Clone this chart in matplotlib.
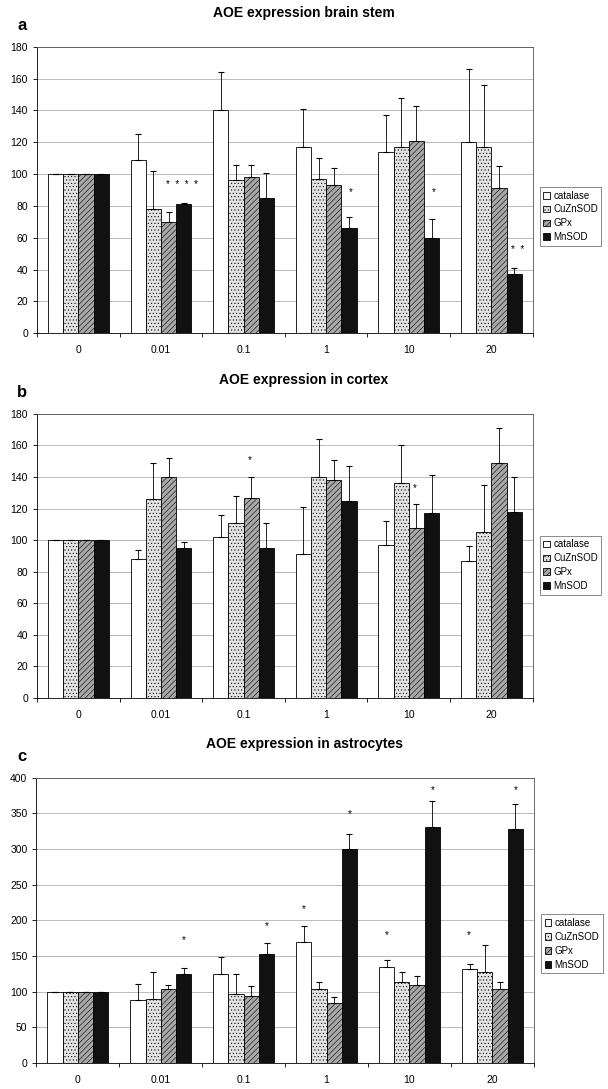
import numpy as np
import matplotlib.pyplot as plt

plt.rcParams['font.family'] = ['Liberation Sans', 'DejaVu Sans']
plt.rcParams['hatch.linewidth'] = 0.4

doses = ['0', '0.01', '0.1', '1', '10', '20']
enzymes = ['catalase', 'CuZnSOD', 'GPx', 'MnSOD']

# panel a: brain stem
a_vals = [[100, 109, 140, 117, 114, 120],
          [100, 78, 96, 97, 117, 117],
          [100, 70, 98, 93, 121, 91],
          [100, 81, 85, 66, 60, 37]]
a_err = [[0, 16, 24, 24, 23, 46],
         [0, 24, 10, 13, 31, 39],
         [0, 6, 8, 11, 22, 14],
         [0, 1, 16, 7, 12, 4]]
a_stars = [(1.25, 93, '*  *  *  *'), (3.3, 89, '*'), (4.3, 89, '*'), (5.32, 52, '*  *')]

# panel b: cortex
b_vals = [[100, 88, 102, 91, 97, 87],
          [100, 126, 111, 140, 136, 105],
          [100, 140, 127, 138, 108, 149],
          [100, 95, 95, 125, 117, 118]]
b_err = [[0, 6, 14, 30, 15, 9],
         [0, 23, 17, 24, 24, 30],
         [0, 12, 13, 13, 15, 22],
         [0, 4, 16, 22, 24, 22]]
b_stars = [(2.08, 151, '*'), (4.07, 133, '*')]

# panel c: astrocytes
c_vals = [[100, 88, 125, 169, 134, 131],
          [100, 90, 96, 104, 114, 127],
          [100, 103, 94, 84, 109, 103],
          [100, 125, 152, 300, 330, 328]]
c_err = [[0, 23, 23, 23, 10, 7],
         [0, 37, 28, 9, 13, 38],
         [0, 6, 14, 9, 13, 11],
         [0, 8, 16, 21, 37, 35]]
c_stars = [(1.28, 172, '*'), (2.28, 192, '*'), (2.72, 216, '*'), (3.28, 349, '*'),
           (3.72, 179, '*'), (4.28, 383, '*'), (4.72, 179, '*'), (5.28, 383, '*')]

styles = [dict(color='white', hatch=None),
          dict(color='#e4e4e4', hatch='.....'),
          dict(color='#a8a8a8', hatch='//////'),
          dict(color='#111111', hatch=None)]

fig = plt.figure(figsize=(6.08, 10.89), dpi=100)


def panel(rect, letter, title, vals, errs, stars, ymax, ystep, legy):
    ax = fig.add_axes(rect)
    x = np.arange(len(doses))
    w = 0.184
    for i in range(4):
        ax.bar(x + (i - 1.5) * w, vals[i], w, color=styles[i]['color'],
               hatch=styles[i]['hatch'], edgecolor='black', linewidth=0.6,
               label=enzymes[i], zorder=3)
        e = np.array(errs[i])
        ax.errorbar(x + (i - 1.5) * w, vals[i], yerr=[np.zeros_like(e), e],
                    fmt='none', ecolor='black', elinewidth=0.6, capsize=2,
                    capthick=0.8, zorder=4)
    for sx, sy, s in stars:
        ax.text(sx, sy, s, fontsize=7, ha='center', va='center')
    ax.set_xlim(-0.5, 5.5)
    ax.set_ylim(0, ymax)
    ax.set_yticks(np.arange(0, ymax + 1, ystep))
    ax.yaxis.grid(True, color='#b0b0b0', linewidth=0.6, zorder=0)
    ax.set_xticks(x)
    ax.set_xticklabels(doses)
    ax.set_xticks(np.arange(-0.5, 6, 1), minor=True)
    ax.tick_params(axis='x', which='major', length=0, pad=8.5, labelsize=7.5)
    ax.tick_params(axis='x', which='minor', length=3, width=0.6)
    ax.tick_params(axis='y', length=3, width=0.6, labelsize=7.5)
    for s in ax.spines.values():
        s.set_linewidth(0.6)
        s.set_color('#555555')
    ax.spines['left'].set_color('black')
    ax.spines['bottom'].set_color('black')
    leg = ax.legend(loc='upper left', bbox_to_anchor=(1.015, legy), fontsize=7,
                    frameon=True, fancybox=False, edgecolor='#555555',
                    handlelength=0.7, handleheight=0.7, handletextpad=0.3,
                    borderpad=0.35, labelspacing=0.4, borderaxespad=0)
    leg.get_frame().set_linewidth(0.6)
    top = rect[1] + rect[3]
    fig.text(0.5, top + 0.027, title, ha='center', fontsize=10, fontweight='bold')
    fig.text(0.028, top + 0.015, letter, ha='left', fontsize=12, fontweight='bold')
    return ax


panel([0.061, 0.694, 0.815, 0.263], 'a', 'AOE expression brain stem',
      a_vals, a_err, a_stars, 180, 20, 0.51)
panel([0.061, 0.359, 0.815, 0.261], 'b', 'AOE expression in cortex',
      b_vals, b_err, b_stars, 180, 20, 0.57)
panel([0.060, 0.024, 0.818, 0.262], 'c', 'AOE expression in astrocytes',
      c_vals, c_err, c_stars, 400, 50, 0.52)

fig.savefig('out.png', dpi=100)
